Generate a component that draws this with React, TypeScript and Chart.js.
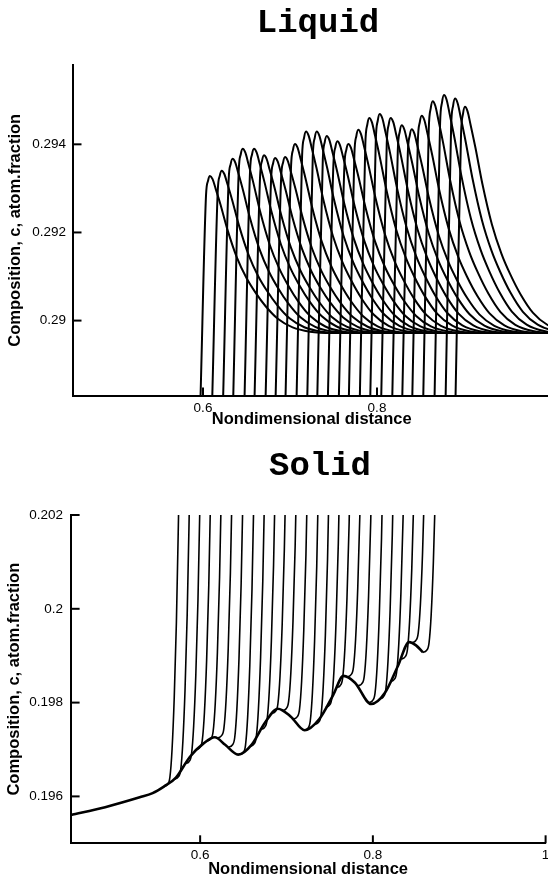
import React, { useEffect, useRef } from 'react';
import { Chart, registerables } from 'chart.js';

Chart.register(...registerables);

// ---------------- Liquid panel ----------------
const liquidXTicks = [0.6, 0.8, 1];
const liquidYTicks = [0.29, 0.292, 0.294];
const liquidXRange = [0.45, 1.0];
const liquidYRange = [0.2883, 0.2958];
// x where each profile leaves the axis (bottom of the steep front)
const liquidStartX = [0.5972, 0.6107, 0.6232, 0.6348, 0.6478, 0.6593, 0.672, 0.6835, 0.6949, 0.7076, 0.7199, 0.7314, 0.7436, 0.7562, 0.7677, 0.7803, 0.7923, 0.8049, 0.8176, 0.8291, 0.8406, 0.8532, 0.8662, 0.8789, 0.8903];
// peak position and peak composition of each profile
const liquidPeakX = [0.608, 0.6215, 0.634, 0.6456, 0.6586, 0.6701, 0.6828, 0.6943, 0.7057, 0.7184, 0.7307, 0.7422, 0.7544, 0.767, 0.7785, 0.7911, 0.8031, 0.8157, 0.8284, 0.8399, 0.8514, 0.864, 0.877, 0.8897, 0.9011];
const liquidPeakC = [0.29328, 0.2934, 0.29367, 0.2939, 0.2939, 0.29375, 0.29369, 0.29371, 0.29401, 0.29429, 0.29429, 0.29419, 0.29407, 0.29401, 0.29433, 0.2946, 0.29469, 0.2946, 0.29443, 0.29434, 0.29465, 0.29498, 0.29512, 0.29504, 0.29485];
const liquidBaseline = 0.28972;
const liquidFloor = 0.2883;
const liquidEndX = 1.1;
// common profile shape: offset from peak, fraction of (peak - baseline)
const liquidShapeDx = [-0.0045, -0.0022, 0, 0.003, 0.0065, 0.012, 0.02, 0.031, 0.042, 0.052, 0.064, 0.078, 0.095, 0.115, 0.14];
const liquidShapeFrac = [0.88, 0.97, 1, 0.98, 0.92, 0.82, 0.66, 0.48, 0.35, 0.26, 0.17, 0.09, 0.035, 0.008, 0];

// ---------------- Solid panel ----------------
const solidXTicks = [0.6, 0.8, 1];
const solidYTicks = [0.196, 0.198, 0.2, 0.202];
const solidXRange = [0.45, 1.0];
const solidYRange = [0.195, 0.202];
// common wavy envelope
const solidEnvX = [0.45, 0.49, 0.53, 0.545, 0.558, 0.572, 0.588, 0.604, 0.617, 0.629, 0.644, 0.66, 0.675, 0.69, 0.705, 0.721, 0.738, 0.754, 0.766, 0.779, 0.798, 0.814, 0.829, 0.842, 0.85, 0.858];
const solidEnvC = [0.1956, 0.19577, 0.19598, 0.19607, 0.19621, 0.1964, 0.19684, 0.19713, 0.19726, 0.1971, 0.19689, 0.19711, 0.19757, 0.19787, 0.1977, 0.19741, 0.19765, 0.19816, 0.19857, 0.19843, 0.19797, 0.19821, 0.19878, 0.19929, 0.19922, 0.19907];
// where each profile leaves the envelope
const solidKneeX = [0.558, 0.5705, 0.583, 0.5955, 0.608, 0.6205, 0.633, 0.6455, 0.658, 0.6705, 0.683, 0.6955, 0.708, 0.7205, 0.733, 0.7455, 0.758, 0.7705, 0.783, 0.7955, 0.808, 0.8205, 0.833, 0.8455, 0.858];
const solidKneeC = [0.19621, 0.19637, 0.1967, 0.197, 0.19718, 0.19725, 0.19705, 0.19689, 0.19707, 0.19743, 0.19777, 0.19783, 0.19765, 0.19741, 0.19754, 0.1979, 0.19832, 0.19855, 0.19836, 0.198, 0.19808, 0.19845, 0.19893, 0.19928, 0.19907];
// common steep rise after the knee
const solidRiseDx = [0, 0.004, 0.007, 0.0095, 0.012, 0.0145, 0.017, 0.02];
const solidRiseDc = [0, 0.00004, 0.0002, 0.0008, 0.0019, 0.0035, 0.0058, 0.0088];

const AXIS_FONT = "'Liberation Sans', Arial, Helvetica, sans-serif";
const TITLE_FONT = "'Liberation Mono', 'Courier New', monospace";

const inwardTicks = {
  id: 'inwardTicks',
  afterDraw(chart: any) {
    const { ctx, chartArea, scales } = chart;
    ctx.save();
    ctx.strokeStyle = '#000';
    ctx.lineWidth = 2;
    scales.x.ticks.forEach((t: any) => {
      const x = scales.x.getPixelForValue(t.value);
      ctx.beginPath();
      ctx.moveTo(x, chartArea.bottom);
      ctx.lineTo(x, chartArea.bottom - 8);
      ctx.stroke();
    });
    scales.y.ticks.forEach((t: any) => {
      const y = scales.y.getPixelForValue(t.value);
      ctx.beginPath();
      ctx.moveTo(chartArea.left, y);
      ctx.lineTo(chartArea.left + 9, y);
      ctx.stroke();
    });
    ctx.restore();
  },
};

function buildOptions(p: any) {
  return {
    responsive: false,
    animation: false,
    devicePixelRatio: 1,
    events: [],
    layout: { padding: p.padding },
    plugins: { legend: { display: false }, tooltip: { enabled: false }, title: { display: false } },
    elements: { point: { radius: 0 } },
    scales: {
      x: {
        type: 'linear',
        position: 'bottom',
        min: p.xRange[0],
        max: p.xRange[1],
        afterBuildTicks: (s: any) => { s.ticks = p.xTicks.map((v: number) => ({ value: v })); },
        afterFit: (s: any) => { s.height = p.xHeight; },
        grid: { drawOnChartArea: false, drawTicks: false },
        border: { display: true, color: '#000', width: 2 },
        ticks: { color: '#000', font: { family: AXIS_FONT, size: 13.5 }, padding: p.xLabelPad, maxRotation: 0, autoSkip: false, callback: (v: any) => String(v) },
        title: { display: true, text: 'Nondimensional distance', color: '#000', font: { family: AXIS_FONT, size: 16.5, weight: 'bold' }, padding: { top: 0, bottom: p.xTitlePad } },
      },
      y: {
        type: 'linear',
        position: 'left',
        min: p.yRange[0],
        max: p.yRange[1],
        afterBuildTicks: (s: any) => { s.ticks = p.yTicks.map((v: number) => ({ value: v })); },
        afterFit: (s: any) => { s.width = p.yWidth; },
        grid: { drawOnChartArea: false, drawTicks: false },
        border: { display: true, color: '#000', width: 2 },
        ticks: { color: '#000', font: { family: AXIS_FONT, size: 13.5 }, padding: p.yLabelPad, autoSkip: false, callback: (v: any) => String(v) },
        title: { display: true, text: 'Composition, c, atom.fraction', color: '#000', font: { family: AXIS_FONT, size: 16.5, weight: 'bold' }, padding: { top: p.yTitlePad, bottom: 0 } },
      },
    },
  };
}

function liquidConfig(): any {
  const datasets = liquidPeakX.map((px, i) => {
    const amp = liquidPeakC[i] - liquidBaseline;
    const pts = [{ x: liquidStartX[i], y: liquidFloor }];
    liquidShapeDx.forEach((dx, j) => pts.push({ x: px + dx, y: liquidBaseline + amp * liquidShapeFrac[j] }));
    pts.push({ x: liquidEndX, y: liquidBaseline });
    return { data: pts, borderColor: '#000', borderWidth: 2, pointRadius: 0, fill: false, cubicInterpolationMode: 'monotone' };
  });
  return {
    type: 'line',
    data: { datasets },
    options: buildOptions({
      padding: { left: 0, top: 65, right: 9, bottom: 0 },
      xRange: liquidXRange, yRange: liquidYRange, xTicks: liquidXTicks, yTicks: liquidYTicks,
      xHeight: 44.5, yWidth: 72.5, xLabelPad: 5, xTitlePad: 10.2, yLabelPad: 6.5, yTitlePad: 6,
    }),
    plugins: [inwardTicks],
  };
}

function solidConfig(): any {
  const envelope = {
    data: solidEnvX.map((x, i) => ({ x, y: solidEnvC[i] })),
    borderColor: '#000', borderWidth: 2.6, pointRadius: 0, fill: false, cubicInterpolationMode: 'monotone',
  };
  const rises = solidKneeX.map((kx, i) => ({
    data: solidRiseDx.map((dx, j) => ({ x: kx + dx, y: solidKneeC[i] + solidRiseDc[j] })),
    borderColor: '#000', borderWidth: 1.6, pointRadius: 0, fill: false, cubicInterpolationMode: 'monotone',
  }));
  return {
    type: 'line',
    data: { datasets: [envelope, ...rises] },
    options: buildOptions({
      padding: { left: 0, top: 75, right: 14.4, bottom: 0 },
      xRange: solidXRange, yRange: solidYRange, xTicks: solidXTicks, yTicks: solidYTicks,
      xHeight: 38.7, yWidth: 70.6, xLabelPad: 3.7, xTitlePad: 2.7, yLabelPad: 7.5, yTitlePad: 5,
    }),
    plugins: [inwardTicks],
  };
}

const titleStyle = (left: number, top: number): React.CSSProperties => ({
  position: 'absolute',
  left,
  top,
  transform: 'translateX(-50%)',
  font: `bold 34px ${TITLE_FONT}`,
  lineHeight: '34px',
  whiteSpace: 'nowrap',
  color: '#000',
});

export default function App() {
  const topRef = useRef<HTMLCanvasElement>(null);
  const botRef = useRef<HTMLCanvasElement>(null);

  useEffect(() => {
    const c1 = new Chart(topRef.current as HTMLCanvasElement, liquidConfig());
    const c2 = new Chart(botRef.current as HTMLCanvasElement, solidConfig());
    return () => {
      c1.destroy();
      c2.destroy();
    };
  }, []);

  return (
    <div style={{ position: 'fixed', left: 0, top: 0, width: 548, height: 878, overflow: 'hidden', background: '#fff' }}>
      <canvas ref={topRef} width={560} height={440} style={{ position: 'absolute', left: 0, top: 0 }} />
      <canvas ref={botRef} width={560} height={442} style={{ position: 'absolute', left: 0, top: 440 }} />
      <div style={titleStyle(318, 5.7)}>Liquid</div>
      <div style={titleStyle(320, 449)}>Solid</div>
    </div>
  );
}
